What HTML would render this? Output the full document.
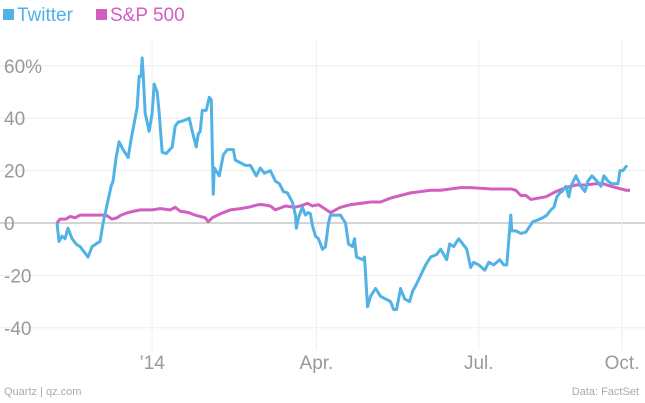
<!DOCTYPE html>
<html><head><meta charset="utf-8"><style>
body{margin:0;background:#fff;font-family:"Liberation Sans",sans-serif}
#c{position:relative;width:645px;height:403px;overflow:hidden}
.lg{position:absolute;top:5px;font-size:19px}
.sq{display:inline-block;width:11px;height:11px;margin-right:3px;vertical-align:1px}
.ft{position:absolute;top:386px;font-size:11px;color:#aaa}
</style></head><body>
<div id="c">
<div class="lg" style="left:3px;color:#51b2e5"><span class="sq" style="background:#51b2e5"></span>Twitter</div>
<div class="lg" style="left:96px;color:#d15fbf"><span class="sq" style="background:#d15fbf"></span>S&amp;P 500</div>
<svg id="s" width="645" height="403" style="position:absolute;left:0;top:0"></svg>
<div class="ft" style="left:4px">Quartz | qz.com</div>
<div class="ft" style="right:6px">Data: FactSet</div>
</div>
<script>
const yTicks=[60,40,20,0,-20,-40];
const yTickLabels=["60%","40","20","0","-20","-40"];
const xTicks=[95,259,421,564];
const xTickLabels=["’14","Apr.","Jul.","Oct."];
const twX=[0,2,5,8,11,15,19,23,27,31,35,39,43,46,50,54,56,59,62,66,71,74,77,80,82,84,85,86,88,92,95,97,100,102,105,109,115,118,121,126,132,135,139,141,143,145,149,152,154,156,157,162,166,170,176,178,183,188,193,199,203,207,213,218,222,226,230,235,238,239,241,245,248,251,253,255,258,261,265,268,271,273,276,283,288,291,295,297,299,305,307,310,313,318,323,328,333,336,339,343,347,352,355,358,363,368,373,379,383,389,392,396,401,405,409,413,416,421,427,431,436,442,446,449,453,454,458,463,468,475,479,485,489,493,496,499,502,504,508,511,513,518,523,527,530,534,539,543,546,550,554,560,562,565,569,572];
const twV=[0,-7,-5,-6,-2,-6,-8,-9,-11,-13,-9,-8,-7,0,7,14,16,25,31,28,25,32,38,44,56,56,63,57,42,35,42,53,50,42,27,26.5,29,37,38.5,39,40,35,29,34,35,43,43,48,47,11,21,18,26,28,28,24,23,22,22,18,21,19,20,16,15,12,11.5,8,3,-2,2,6,3,4,3.5,-1,-5,-6,-10,-9,0,3,3,3,0,-8,-9,-6,-13,-14,-13,-32,-28,-25,-28,-29,-30,-33,-33,-25,-29,-30,-26,-24,-20,-16,-13,-12,-10,-14,-8,-9,-6,-8,-10,-17,-15,-16,-18,-15,-16,-14,-16,-16,3,-3,-3,-4,-3.5,0.5,1,2,3,5,6,10,11.5,12,14,10,14,18,14,12,16,18,16,14,18,16,15,15,20,20,22];
const spX=[0,3,9,13,18,23,33,43,49,55,60,64,71,83,95,103,113,118,123,131,138,143,148,151,155,163,173,183,191,201,205,213,218,228,237,243,250,255,261,265,273,283,293,303,313,323,333,343,353,363,373,383,393,403,413,433,448,453,458,463,468,473,488,498,508,518,528,538,545,553,563,568,572];
const spV=[0,1.5,1.5,2.5,2,3,3,3,3,1.5,2,3,4,5,5,5.5,5,6,4.5,4,3,2.5,2,0.5,2,3.5,5,5.5,6,7,7,6.5,5,6.5,6,6.5,7.5,6.5,7,6,4,6,7,7.5,8,8,9.5,10.5,11.5,12,12.5,12.5,13,13.5,13.5,13,13,13,12.5,10.5,10.5,9,10,12,13.5,14.5,14.5,15,15,14,13,12.5,12.5,11.5];
const NS="http://www.w3.org/2000/svg",s=document.getElementById('s');
const X=d=>57+d*(573/572), Y=v=>223-v*2.62;
function mk(t,a){const e=document.createElementNS(NS,t);for(const k in a)e.setAttribute(k,a[k]);s.appendChild(e);return e;}
yTicks.forEach((v,i)=>{
 const l=mk('line',{x1:0,x2:645,y1:Y(v),y2:Y(v),stroke:v===0?'#aaa':'#eee','stroke-width':1});
 
 
 const t=mk('text',{x:4,y:Y(v)+7,'font-size':19,fill:'#999','font-family':'Liberation Sans'});
 t.textContent=yTickLabels[i];
 
 
});
xTicks.forEach((d,i)=>{
 const l=mk('line',{x1:X(d),x2:X(d),y1:40,y2:350,stroke:'#eee','stroke-width':1});
 
 
 const t=mk('text',{x:X(d),y:369,'font-size':19,fill:'#999','text-anchor':'middle','font-family':'Liberation Sans'});
 t.textContent=xTickLabels[i];
 
 
});
function line(xs,vs,c,n){
 const p=mk('polyline',{points:xs.map((d,i)=>X(d)+','+Y(vs[i])).join(' '),fill:'none',stroke:c,'stroke-width':3,'stroke-linejoin':'round'});
 
 
}
line(spX,spV,'#d15fbf','sp500-line');
line(twX,twV,'#51b2e5','twitter-line');
</script>
</body></html>
